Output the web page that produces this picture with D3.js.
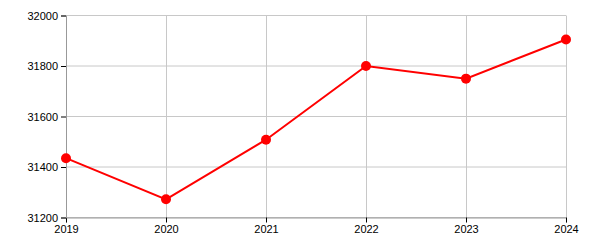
<!DOCTYPE html>
<html>
<head>
<meta charset="utf-8">
<script src="https://cdn.jsdelivr.net/npm/d3@7"></script>
<style>
  body { margin: 0; background: #fff; }
  text { font-family: Arial, "Liberation Sans", sans-serif; font-size: 11px; fill: #000; }
</style>
</head>
<body>
<svg id="chart" width="600" height="250"></svg>
<script>
const years = [2019, 2020, 2021, 2022, 2023, 2024]
const values = [31435, 31272, 31508, 31800, 31750, 31905]
const yTicks = [31200, 31400, 31600, 31800, 32000]

const margin = { left: 66, right: 34, top: 15.5, bottom: 32.5 }
const width = 600 - margin.left - margin.right
const height = 250 - margin.top - margin.bottom

const svg = d3.select('#chart')
const g = svg.append('g').attr('transform', `translate(${margin.left},${margin.top})`)

const x = d3.scaleLinear().domain([2019, 2024]).range([0, width])
const y = d3.scaleLinear().domain([31200, 32000]).range([height, 0])

// grid
g.append('g').selectAll('line').data(years).join('line')
    .attr('x1', d => Math.round(x(d)) + 0.5).attr('x2', d => Math.round(x(d)) + 0.5)
    .attr('y1', 0).attr('y2', height)
    .attr('stroke', '#c8c8c8')
g.append('g').selectAll('line').data(yTicks).join('line')
    .attr('x1', 0).attr('x2', width)
    .attr('y1', d => y(d)).attr('y2', d => y(d))
    .attr('stroke', '#c8c8c8')

// axes
const xAxis = g.append('g').attr('transform', `translate(0,${height})`)
    .call(d3.axisBottom(x).tickValues(years).tickFormat(d3.format('d')).tickSize(5).tickPadding(3))
const yAxis = g.append('g')
    .call(d3.axisLeft(y).tickValues(yTicks).tickFormat(d3.format('d')).tickSize(5).tickPadding(3))
xAxis.select('.domain').attr('stroke', '#999')
yAxis.select('.domain').attr('stroke', '#999')
svg.selectAll('.tick text').attr('font-size', 11).attr('font-family', 'Arial, "Liberation Sans", sans-serif').attr('fill', '#000')
svg.selectAll('.tick line').attr('stroke', '#000')

const line = d3.line().x((d, i) => x(years[i])).y(d => y(d))
g.append('path').datum(values)
    .attr('d', line)
    .attr('fill', 'none')
    .attr('stroke', '#ff0000')
    .attr('stroke-width', 2)

g.append('g').selectAll('circle').data(values).join('circle')
    .attr('cx', (d, i) => x(years[i]))
    .attr('cy', d => y(d))
    .attr('r', 5)
    .attr('fill', '#ff0000')
</script>
</body>
</html>
